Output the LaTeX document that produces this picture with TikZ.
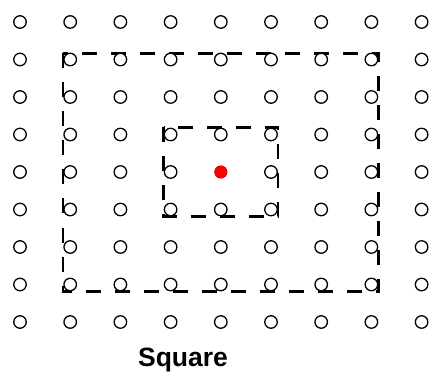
\documentclass[tikz,border=0pt]{standalone}
\usepackage{fontspec}
\setsansfont{Liberation Sans}
\usetikzlibrary{calc}
\begin{document}
\begin{tikzpicture}[x=1pt,y=-1pt,
  dot/.style={circle,draw=black,line width=1.3pt,fill=white,minimum size=12.5pt,inner sep=0pt},
  reddot/.style={circle,fill=red,draw=red!80!black,line width=0.6pt,minimum size=12.5pt,inner sep=0pt},
  dashbox/.style={draw=black,line width=2.4pt,dash pattern=on 15pt off 14pt},
  caption/.style={font=\sffamily\bfseries\fontsize{26.5}{30}\selectfont}]
\useasboundingbox (0,0) rectangle (433,379);
% dashed squares (drawn under the circles)
\foreach \i in {1,...,9}{
  \foreach \j in {1,...,9}{
    \coordinate (p-\i-\j) at ({20+50.2*(\i-1)},{22+37.5*(\j-1)});
  }
}
\draw[dashbox] ($(p-2-2)+(-7,-6)$) rectangle ($(p-8-8)+(7,7)$);
\draw[dashbox] ($(p-4-4)+(-7,-7)$) rectangle ($(p-6-6)+(7,7)$);
\foreach \i in {1,...,9}{
  \foreach \j in {1,...,9}{
    \ifnum\i=5 \ifnum\j=5 \else \node[dot] (c-\i-\j) at (p-\i-\j) {};\fi
    \else \node[dot] (c-\i-\j) at (p-\i-\j) {};\fi
  }
}
\node[reddot] (red) at (p-5-5) {};
\node[caption] (cap) at (183,360) {Square};
\end{tikzpicture}
\end{document}
